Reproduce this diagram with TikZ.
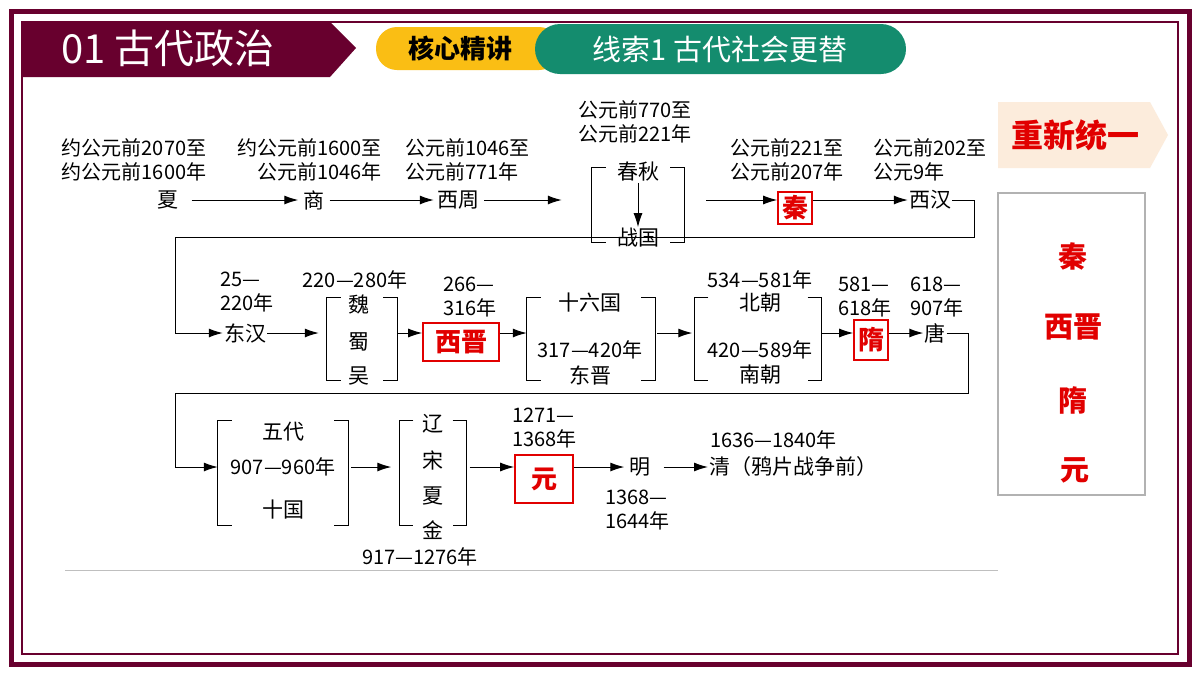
\documentclass[tikz,border=0pt]{standalone}
\usepackage{fontspec}
\setmainfont{Noto Sans CJK SC}
\usetikzlibrary{arrows.meta,positioning,shapes.geometric}
\definecolor{maroon}{RGB}{104,0,46}
\definecolor{pillyellow}{RGB}{250,190,20}
\definecolor{pillgreen}{RGB}{20,140,110}
\definecolor{tagbg}{RGB}{252,236,220}
\definecolor{hired}{RGB}{225,0,0}

\begin{document}
\begin{tikzpicture}[
    x=1pt, y=-1pt,
    date/.style={font=\fontsize{20}{24}\selectfont, inner sep=0pt},
    dyn/.style={font=\fontsize{21}{22}\selectfont, inner sep=1pt},
    redbox/.style={draw=hired, line width=1.6pt, text=hired, font=\fontsize{26}{27}\selectfont\bfseries, inner sep=1pt},
    brk/.style={inner sep=0pt},
    arrow/.style={line width=1pt, -{Latex[length=14pt,width=9pt]}},
    link/.style={line width=1pt},
    bigred/.style={text=hired, font=\fontsize{29}{30}\selectfont\bfseries}
]
\useasboundingbox (0,0) rectangle (1200,675);
\fill[white] (0,0) rectangle (1200,675);

% Frame and header
\draw[maroon, line width=5pt] (11,11) rectangle (1189,664);
\draw[maroon, line width=1.8pt] (22,22) rectangle (1178,654);
\fill[maroon] (22,22) -- (330,22) -- (356,48) -- (330,77) -- (22,77) -- cycle;
\node[text=white, font=\fontsize{40}{42}\selectfont, anchor=west] (title) at (58,48) {01 古代政治};
\fill[pillyellow, rounded corners=21pt] (376,27) rectangle (560,70);
\node[font=\fontsize{26}{28}\selectfont\bfseries] (core) at (460,48) {核心精讲};
\fill[pillgreen, rounded corners=25pt] (535,24) rectangle (906,74);
\node[text=white, font=\fontsize{29}{30}\selectfont] (clue) at (720,49) {线索1\ 古代社会更替};

% Row 1
\node[dyn] (xia) at (168,200) {夏};
\node[date, align=left] (xiad) at (134,160) {约公元前2070至\\约公元前1600年};
\node[dyn] (shang) at (314,200) {商};
\node[date, align=right, anchor=east] (shangd) at (382,160) {约公元前1600至\\公元前1046年};
\node[dyn] (xizhou) at (458,200) {西周};
\node[date, align=left, anchor=west] (xizhoud) at (405,160) {公元前1046至\\公元前771年};
\node[brk, minimum width=92, minimum height=74] (cq) at (638,205) {};
\node[dyn] (chunqiu) at (638,172) {春秋};
\node[dyn] (zhanguo) at (638,238) {战国};
\node[date, align=left] (cqd) at (635,122) {公元前770至\\公元前221年};
\node[redbox, minimum width=34, minimum height=32] (qin) at (795,208) {秦};
\node[date, align=left, anchor=west] (qind) at (730,160) {公元前221至\\公元前207年};
\node[dyn] (xihan) at (930,200) {西汉};
\node[date, align=left, anchor=west] (xihand) at (873,160) {公元前202至\\公元9年};

% Row 2
\node[dyn] (donghan) at (245,333) {东汉};
\node[date, align=left, anchor=west] (donghand) at (220,292) {25—\\220年};
\node[brk, minimum width=70, minimum height=82] (sanguo) at (362,339) {};
\node[dyn] (wei) at (359,304) {魏};
\node[dyn] (shu) at (359,342) {蜀};
\node[dyn] (wu) at (359,376) {吴};
\node[date] (sanguod) at (355,280) {220—280年};
\node[redbox, minimum width=76, minimum height=38] (xijin) at (461,342) {西晋};
\node[date, align=left, anchor=west] (xijind) at (443,297) {266—\\316年};
\node[brk, minimum width=128, minimum height=82] (sliu) at (591,339) {};
\node[dyn] (shiliu) at (590,303) {十六国};
\node[date] (dongjind) at (590,350) {317—420年};
\node[dyn] (dongjin) at (590,375) {东晋};
\node[brk, minimum width=127, minimum height=82] (nanbei) at (758,339) {};
\node[date] (beichaod) at (760,280) {534—581年};
\node[dyn] (beichao) at (760,303) {北朝};
\node[date] (nanchaod) at (760,350) {420—589年};
\node[dyn] (nanchao) at (760,375) {南朝};
\node[redbox, minimum width=34, minimum height=40] (sui) at (871,340) {隋};
\node[date, align=left, anchor=west] (suid) at (838,297) {581—\\618年};
\node[dyn] (tang) at (935,333) {唐};
\node[date, align=left, anchor=west] (tangd) at (910,297) {618—\\907年};

% Row 3
\node[brk, minimum width=130, minimum height=105] (wudai) at (283,473) {};
\node[dyn] (wudaid) at (283,432) {五代};
\node[date] (wudaiy) at (283,467) {907—960年};
\node[dyn] (shiguo) at (283,510) {十国};
\node[brk, minimum width=67, minimum height=105] (lsxj) at (433,473) {};
\node[dyn] (liao) at (433,424) {辽};
\node[dyn] (song) at (433,460) {宋};
\node[dyn] (xxia) at (433,496) {夏};
\node[dyn] (jin) at (433,530) {金};
\node[date] (lsxjd) at (420,557) {917—1276年};
\node[redbox, minimum width=58, minimum height=48] (yuan) at (544,479) {元};
\node[date, align=left, anchor=west] (yuand) at (512,428) {1271—\\1368年};
\node[dyn] (ming) at (640,467) {明};
\node[date, align=left, anchor=west] (mingd) at (605,510) {1368—\\1644年};
\node[dyn, anchor=west] (qing) at (708,467) {清（鸦片战争前）};
\node[date, anchor=west] (qingd) at (710,440) {1636—1840年};

% Brackets
\foreach \b in {cq,sanguo,sliu,nanbei,wudai,lsxj}{
  \draw[link] ([xshift=14]\b.north west) -- (\b.north west) -- (\b.south west) -- ([xshift=14]\b.south west);
  \draw[link] ([xshift=-14]\b.north east) -- (\b.north east) -- (\b.south east) -- ([xshift=-14]\b.south east);
}

% Arrows
\draw[arrow] (chunqiu) -- (zhanguo);
\draw[arrow] ([xshift=12]xia.east) -- ([xshift=-4]shang.west);
\draw[arrow] ([xshift=4]shang.east) -- ([xshift=-2]xizhou.west);
\draw[arrow] ([xshift=4]xizhou.east) -- ([xshift=-30]cq.west |- xizhou);
\draw[arrow] ([xshift=22]cq.east |- xihan) -- (qin.west |- xihan);
\draw[arrow] (qin.east |- xihan) -- (xihan);
\draw[link] (xihan.east) -- ++(22,0) coordinate (r1) -- (r1 |- 0,237) -- (175,237) coordinate (l1);
\draw[arrow] (l1) |- (donghan);
\draw[arrow] (donghan) -- ([xshift=-8]sanguo.west |- donghan);
\draw[arrow] (sanguo.east |- donghan) -- (xijin.west |- donghan);
\draw[arrow] (xijin.east |- donghan) -- (sliu.west |- donghan);
\draw[arrow] ([xshift=2]sliu.east |- donghan) -- ([xshift=-2]nanbei.west |- donghan);
\draw[arrow] (nanbei.east |- donghan) -- (sui.west |- donghan);
\draw[arrow] (sui.east |- donghan) -- (tang);
\draw[link] (tang.east) -- (968,333) coordinate (r2) -- (968,393) -- (175,393) coordinate (l2);
\draw[arrow] (l2) |- (wudai.west |- wudaiy);
\draw[arrow] ([xshift=3]wudai.east |- wudaiy) -- ([xshift=-8]lsxj.west |- wudaiy);
\draw[arrow] ([xshift=3]lsxj.east |- wudaiy) -- (yuan.west |- wudaiy);
\draw[arrow] (yuan.east |- wudaiy) -- ([xshift=-4]ming.west);
\draw[arrow] ([xshift=12]ming.east) -- (qing);
\draw[black!25, line width=0.8pt] (65,570) -- (998,570);

% Reunification panel
\fill[tagbg] (998,102) -- (1150,102) -- (1168,135) -- (1150,168) -- (998,168) -- cycle;
\node[text=hired, font=\fontsize{32}{34}\selectfont\bfseries] (tag) at (1075,135) {重新统一};
\draw[black!30, line width=2pt] (998,193) rectangle (1145,495);
\node[bigred] (p1) at (1073,256) {秦};
\node[bigred] (p2) at (1073,327) {西晋};
\node[bigred] (p3) at (1073,400) {隋};
\node[bigred] (p4) at (1075,470) {元};
\end{tikzpicture}
\end{document}
